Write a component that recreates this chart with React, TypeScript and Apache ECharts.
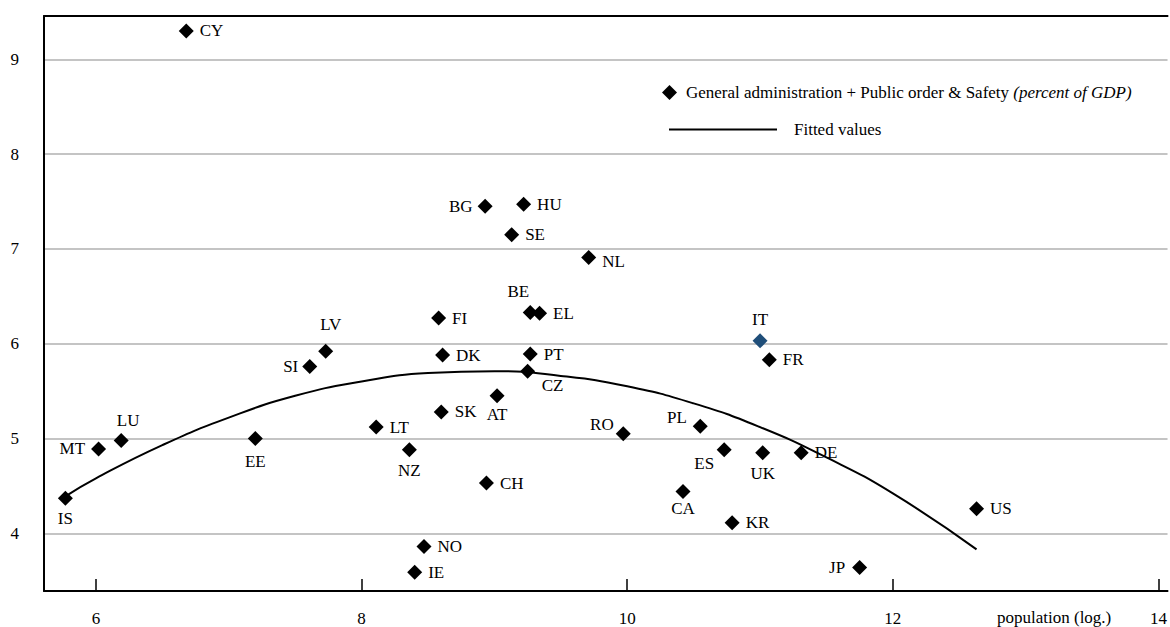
import React, { useEffect, useRef } from "react";
import * as echarts from "echarts";

// Country codes with log population (x) and spending share of GDP (y)
const CODES = ["CY", "IS", "MT", "LU", "EE", "LV", "SI", "FI", "DK", "BE", "EL", "PT", "CZ", "AT", "SK", "LT", "NZ", "CH", "IT", "FR", "RO", "PL", "ES", "UK", "DE", "CA", "KR", "US", "JP", "BG", "HU", "SE", "NL", "NO", "IE"];
const LOG_POP = [6.68, 5.77, 6.02, 6.19, 7.2, 7.73, 7.61, 8.58, 8.61, 9.27, 9.34, 9.27, 9.25, 9.02, 8.6, 8.11, 8.36, 8.94, 11.0, 11.07, 9.97, 10.55, 10.73, 11.02, 11.31, 10.42, 10.79, 12.63, 11.75, 8.93, 9.22, 9.13, 9.71, 8.47, 8.4];
const SPENDING = [9.3, 4.37, 4.89, 4.98, 5.0, 5.92, 5.76, 6.27, 5.88, 6.33, 6.32, 5.89, 5.71, 5.45, 5.28, 5.12, 4.88, 4.53, 6.03, 5.83, 5.05, 5.13, 4.88, 4.85, 4.85, 4.44, 4.11, 4.26, 3.64, 7.45, 7.47, 7.15, 6.91, 3.86, 3.59];

// Fitted values curve
const FIT_X = [5.77, 6.0, 6.5, 7.0, 7.5, 8.0, 8.5, 9.0, 9.5, 10.0, 10.5, 11.0, 11.5, 12.0, 12.63];
const FIT_Y = [4.39, 4.58, 4.93, 5.22, 5.45, 5.6, 5.69, 5.71, 5.66, 5.55, 5.37, 5.12, 4.8, 4.42, 3.83];

const HIGHLIGHT = "IT";
const SCATTER_NAME = "General administration + Public order & Safety";
const FIT_NAME = "Fitted values";
const X_TITLE = "population (log.)";

const FONT = "Liberation Serif";

type Placement = { position: string; distance?: number; offset?: [number, number] };
const LABEL_PLACEMENT: Record<string, Placement> = {
  IS: { position: "bottom", distance: 4 },
  MT: { position: "left", distance: 6 },
  LU: { position: "top", distance: 4, offset: [7, 0] },
  EE: { position: "bottom", distance: 7 },
  LV: { position: "top", distance: 11, offset: [5, 0] },
  SI: { position: "left", distance: 4 },
  BE: { position: "top", distance: 5, offset: [-12, 0] },
  CZ: { position: "bottom", distance: 0, offset: [25, -2] },
  AT: { position: "bottom", distance: 3 },
  NZ: { position: "bottom", distance: 5 },
  IT: { position: "top", distance: 5 },
  RO: { position: "left", distance: 2, offset: [0, -9] },
  PL: { position: "left", distance: 6, offset: [0, -9] },
  ES: { position: "bottom", distance: 0, offset: [-20, -2] },
  UK: { position: "bottom", distance: 5 },
  CA: { position: "bottom", distance: 1 },
  JP: { position: "left", distance: 7 },
  BG: { position: "left", distance: 5 },
  NL: { position: "right", distance: 6, offset: [0, 4] },
};

export default function App() {
  const ref = useRef<HTMLDivElement>(null);

  useEffect(() => {
    if (!ref.current) return;
    const chart = echarts.init(ref.current, undefined, { renderer: "svg" });

    const points = CODES.map((code, i) => {
      const p = LABEL_PLACEMENT[code] || { position: "right", distance: 6 };
      return {
        name: code,
        value: [LOG_POP[i], SPENDING[i]],
        itemStyle: { color: code === HIGHLIGHT ? "#1f4e79" : "#000", opacity: 1 },
        label: {
          show: true,
          formatter: code,
          position: p.position,
          distance: p.distance ?? 6,
          offset: p.offset ?? [0, 0],
        },
      };
    });

    const fit = FIT_X.map((x, i) => [x, FIT_Y[i]]);

    chart.setOption({
      animation: false,
      textStyle: { fontFamily: FONT, color: "#000" },
      grid: { left: 44, top: 16, right: 0, bottom: 36, show: false },
      legend: [
        {
          data: [{ name: SCATTER_NAME, icon: "diamond" }],
          left: 657,
          top: 79,
          itemWidth: 15,
          itemHeight: 15,
          formatter: () => "{n|" + SCATTER_NAME + "} {i|(percent of GDP)}",
          textStyle: {
            fontFamily: FONT,
            fontSize: 17,
            color: "#000",
            padding: [0, 0, 0, 4],
            rich: {
              n: { fontFamily: FONT, fontSize: 17, color: "#000" },
              i: { fontFamily: FONT, fontSize: 17, color: "#000", fontStyle: "italic" },
            },
          },
        },
        {
          data: [{ name: FIT_NAME, icon: "rect" }],
          left: 664,
          top: 116,
          itemWidth: 108,
          itemHeight: 2,
          textStyle: { fontFamily: FONT, fontSize: 17, color: "#000", padding: [0, 0, 0, 12] },
        },
      ],
      xAxis: [
        {
          type: "value",
          min: 5.609,
          max: 14.068,
          splitLine: { show: false },
          axisLine: { show: true, onZero: false, lineStyle: { color: "#000", width: 2 } },
          axisTick: { show: true, inside: true, length: 12, lineStyle: { color: "#000", width: 1.5 } },
          axisLabel: {
            showMinLabel: false,
            showMaxLabel: false,
            margin: 19,
            fontFamily: FONT,
            fontSize: 17,
            color: "#000",
          },
        },
        {
          type: "value",
          position: "top",
          min: 5.609,
          max: 14.068,
          splitLine: { show: false },
          axisLine: { show: true, onZero: false, lineStyle: { color: "#000", width: 2 } },
          axisTick: { show: false },
          axisLabel: { show: false },
        },
      ],
      yAxis: {
        type: "value",
        min: 3.391,
        max: 9.457,
        axisLine: { show: true, onZero: false, lineStyle: { color: "#000", width: 2 } },
        axisTick: { show: false },
        splitLine: { show: true, lineStyle: { color: "#c4c4c4", width: 2 } },
        axisLabel: {
          showMinLabel: false,
          showMaxLabel: false,
          margin: 25,
          fontFamily: FONT,
          fontSize: 17,
          color: "#000",
        },
      },
      series: [
        {
          name: FIT_NAME,
          type: "line",
          data: fit,
          smooth: true,
          symbol: "none",
          showSymbol: false,
          lineStyle: { color: "#000", width: 2 },
          itemStyle: { color: "#000" },
          z: 2,
        },
        {
          name: SCATTER_NAME,
          type: "scatter",
          data: points,
          symbol: "diamond",
          symbolSize: 15,
          itemStyle: { color: "#000", opacity: 1 },
          label: { fontFamily: FONT, fontSize: 17, color: "#000" },
          z: 3,
        },
      ],
      graphic: [
        {
          type: "text",
          left: 997,
          top: 609,
          style: { text: X_TITLE, font: "17px " + FONT, fill: "#000" },
        },
      ],
    });

    return () => chart.dispose();
  }, []);

  return (
    <div
      ref={ref}
      style={{ position: "fixed", left: 0, top: 0, width: 1170, height: 627, background: "#fff" }}
    />
  );
}
